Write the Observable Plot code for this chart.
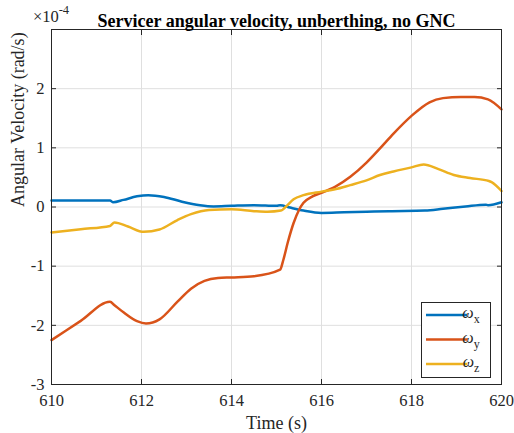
<!DOCTYPE html>
<html>
<head>
<meta charset="utf-8">
<script src="https://cdn.jsdelivr.net/npm/d3@7"></script>
<script src="https://cdn.jsdelivr.net/npm/@observablehq/plot@0.6"></script>
<style>
  html, body { margin: 0; padding: 0; background: #fff; }
  #chart { width: 514px; height: 433px; }
</style>
</head>
<body>
<div id="chart"></div>
<script>
// ---- data (values in units of 1e-4 rad/s) ----
const titleText = "Servicer angular velocity, unberthing, no GNC";
const xLabel = "Time (s)";
const yLabel = "Angular Velocity (rad/s)";
const xTicks = [610, 612, 614, 616, 618, 620];
const yTicks = [-3, -2, -1, 0, 1, 2];
const seriesNames = ["x", "y", "z"];
const seriesColors = ["#0072BD", "#D95319", "#EDB120"];

const tX = [610, 610.7, 611.3, 611.37, 611.6, 611.9, 612.15, 612.5, 612.9, 613.3, 613.6, 614, 614.5, 615.0, 615.08, 615.3, 615.6, 616, 616.5, 617, 617.5, 618.3, 618.7, 619.2, 619.65, 619.7, 620];
const wX = [0.11, 0.11, 0.11, 0.08, 0.12, 0.18, 0.2, 0.17, 0.09, 0.03, 0.01, 0.02, 0.03, 0.02, 0.03, -0.01, -0.06, -0.1, -0.09, -0.08, -0.07, -0.06, -0.03, 0.01, 0.04, 0.03, 0.08];

const tY = [610, 610.65, 611.3, 611.4, 611.6, 611.9, 612.1, 612.4, 612.8, 613.1, 613.4, 613.7, 614, 614.5, 615.08, 615.15, 615.25, 615.38, 615.5, 615.6, 615.8, 616, 616.3, 616.64, 617, 617.3, 617.6, 618, 618.4, 618.7, 619.1, 619.4, 619.7, 620];
const wY = [-2.25, -1.925, -1.6, -1.66, -1.78, -1.93, -1.97, -1.9, -1.6, -1.38, -1.25, -1.2, -1.19, -1.17, -1.06, -0.9, -0.6, -0.27, -0.05, 0.07, 0.18, 0.24, 0.34, 0.51, 0.75, 0.99, 1.24, 1.54, 1.77, 1.84, 1.86, 1.86, 1.82, 1.65];

const tZ = [610, 610.65, 611.3, 611.4, 611.7, 612.05, 612.4, 612.8, 613.1, 613.5, 614, 614.5, 614.8, 615.1, 615.2, 615.38, 615.6, 616, 616.3, 616.64, 617, 617.3, 617.6, 618, 618.27, 618.6, 618.94, 619.3, 619.72, 619.78, 620];
const wZ = [-0.43, -0.375, -0.32, -0.26, -0.33, -0.42, -0.38, -0.22, -0.12, -0.05, -0.04, -0.07, -0.08, -0.06, 0.0, 0.13, 0.2, 0.26, 0.3, 0.37, 0.45, 0.54, 0.6, 0.67, 0.72, 0.64, 0.54, 0.49, 0.44, 0.42, 0.27];

const times = [tX, tY, tZ];
const values = [wX, wY, wZ];
const rows = [];
seriesNames.forEach((s, i) => times[i].forEach((t, j) => rows.push({series: s, t, v: values[i][j]})));

const axisColor = "#262626";
const font = "'Liberation Serif', 'Times New Roman', serif";

const chart = Plot.plot({
  width: 514,
  height: 433,
  marginTop: 29,
  marginRight: 13,
  marginBottom: 49,
  marginLeft: 51,
  style: {fontFamily: font, fontSize: "16.5px", color: axisColor, background: "#fff"},
  x: {domain: [610, 620]},
  y: {domain: [-3, 3]},
  color: {domain: seriesNames, range: seriesColors},
  marks: [
    Plot.gridX(xTicks, {stroke: "#dfdfdf", strokeOpacity: 1}),
    Plot.gridY(yTicks, {stroke: "#dfdfdf", strokeOpacity: 1}),
    Plot.line(rows, {x: "t", y: "v", z: "series", stroke: "series", strokeWidth: 2.5, curve: "monotone-x"}),
    Plot.frame({stroke: axisColor, strokeWidth: 1}),
    Plot.axisX({ticks: xTicks, anchor: "bottom", tickSize: -5, tickPadding: 15, tickFormat: d => String(d), label: null, fontSize: 16.5}),
    Plot.axisX({ticks: xTicks, anchor: "top", tickSize: -5, tickFormat: () => "", label: null}),
    Plot.axisY({ticks: yTicks, anchor: "left", tickSize: -5, tickPadding: 12, tickFormat: d => String(d), label: null, fontSize: 16.5}),
    Plot.axisY({ticks: yTicks, anchor: "right", tickSize: -5, tickFormat: () => "", label: null}),
    Plot.text([xLabel], {frameAnchor: "bottom", dy: 44, fontSize: 18, fill: axisColor}),
    Plot.text([yLabel], {frameAnchor: "left", dx: -33, rotate: -90, fontSize: 18, fill: axisColor}),
    Plot.text([titleText], {frameAnchor: "top", dy: -15, fontSize: 18, fontWeight: "bold", fill: "#000"})
  ]
});

document.getElementById("chart").appendChild(chart);

// exponent label and legend
const svg = d3.select(chart);
const exp = svg.append("text")
  .attr("x", 51).attr("y", 22)
  .attr("font-family", font).attr("font-size", 16.5).attr("fill", axisColor);
exp.append("tspan").text("\u00d710");
exp.append("tspan").attr("dy", -8).attr("font-size", 12.5).text("-4");

const lg = svg.append("g");
lg.append("rect").attr("x", 421.5).attr("y", 302.5).attr("width", 69).attr("height", 75)
  .attr("fill", "#fff").attr("stroke", axisColor).attr("stroke-width", 1);
seriesNames.forEach((s, i) => {
  const y = 315 + i * 24.5;
  lg.append("line").attr("x1", 426).attr("x2", 467).attr("y1", y).attr("y2", y)
    .attr("stroke", seriesColors[i]).attr("stroke-width", 2.5);
  const tx = lg.append("text").attr("x", 471).attr("y", y + 3)
    .attr("font-family", font).attr("font-size", 16).attr("fill", axisColor);
  tx.append("tspan").attr("font-style", "italic").text("\u03c9");
  tx.append("tspan").attr("dy", 5).attr("font-size", 12).text(s);
});
</script>
</body>
</html>
